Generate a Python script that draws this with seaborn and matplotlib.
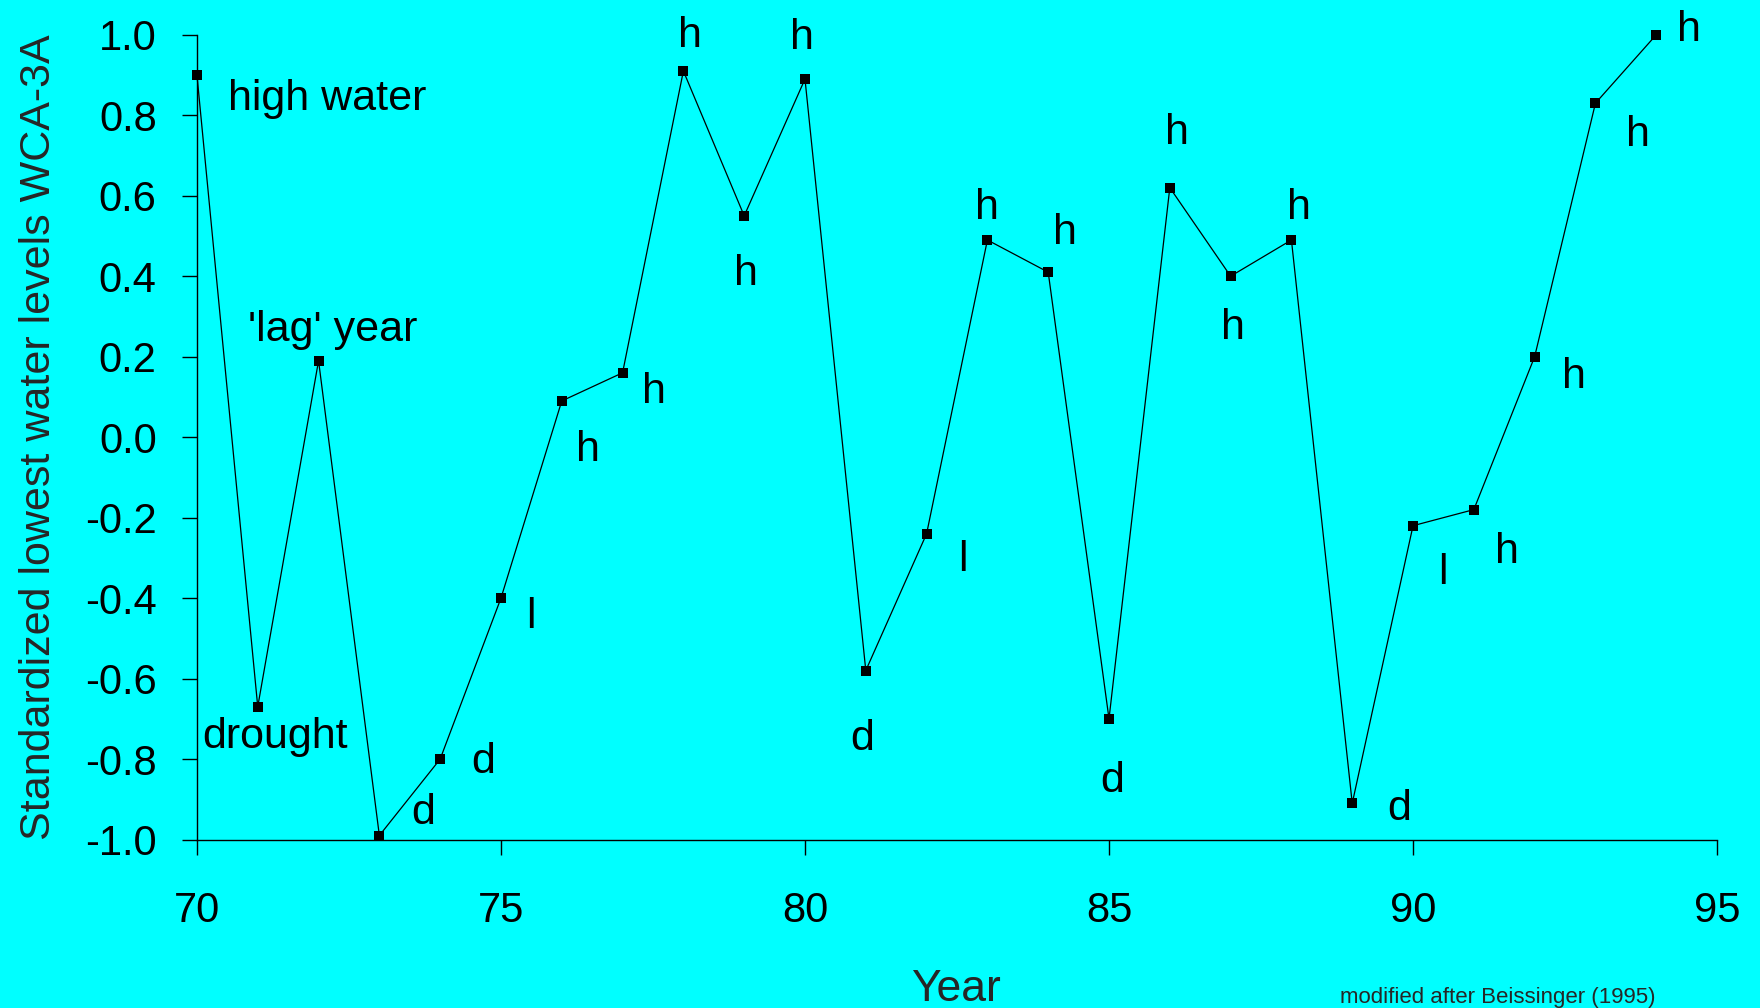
import matplotlib
matplotlib.use('Agg')
import matplotlib.pyplot as plt
import seaborn as sns
from matplotlib.ticker import FormatStrFormatter, MultipleLocator

years = list(range(70, 95))
levels = [0.90, -0.67, 0.19, -0.99, -0.80, -0.40, 0.09, 0.16, 0.91, 0.55,
          0.89, -0.58, -0.24, 0.49, 0.41, -0.70, 0.62, 0.40, 0.49, -0.91,
          -0.22, -0.18, 0.20, 0.83, 1.00]
labels = ['high water', 'drought', "'lag' year", 'd', 'd', 'l', 'h', 'h', 'h', 'h',
          'h', 'd', 'l', 'h', 'h', 'd', 'h', 'h', 'h', 'd',
          'l', 'h', 'h', 'h', 'h']

# label placement relative to each point (pixels, dy downward)
offsets = [(31, 20), (-55, 26), (-71, -35), (44, -27), (43, -1), (30, 15), (26, 45), (31, 15),
           (7, -39), (2, 54), (-3, -45), (-4, 64), (36, 22), (0, -36), (17, -43), (3, 58),
           (7, -59), (2, 48), (8, -36), (47, 2), (30, 43), (33, 38), (39, 16), (42, 28), (33, -9)]
aligns = ['left', 'left', 'left'] + ['center'] * 22

sns.set_style('ticks')
plt.rcParams['font.family'] = ['Liberation Sans', 'DejaVu Sans']
plt.rcParams['axes.unicode_minus'] = False

bg = '#00FFFF'
fig = plt.figure(figsize=(17.6, 10.08), dpi=100, facecolor=bg)
ax = fig.add_axes([0.1119, 0.1671, 0.8637, 0.7984])
ax.set_facecolor(bg)

sns.lineplot(x=years, y=levels, ax=ax, color='black', linewidth=0.9,
             marker='s', markersize=7, markeredgewidth=0, markerfacecolor='black')
for ln in ax.lines:
    ln.set_clip_on(False)

for yr, val, lab, (dx, dy), ha in zip(years, levels, labels, offsets, aligns):
    ax.annotate(lab, (yr, val), xytext=(dx, -(dy + 4)), textcoords='offset pixels',
                ha=ha, va='center', fontsize=31, color='black')

ax.set_xlim(70, 95)
ax.set_ylim(-1, 1)
ax.xaxis.set_major_locator(MultipleLocator(5))
ax.yaxis.set_major_locator(MultipleLocator(0.2))
ax.yaxis.set_major_formatter(FormatStrFormatter('%.1f'))

for s in ['top', 'right']:
    ax.spines[s].set_visible(False)
for s in ['left', 'bottom']:
    ax.spines[s].set_linewidth(1)
    ax.spines[s].set_color('black')

ax.tick_params(axis='both', direction='out', length=11, width=1, colors='black', labelsize=30)
ax.tick_params(axis='y', pad=18)
ax.tick_params(axis='x', pad=26)

ax.set_xlabel('Year', fontsize=32)
ax.set_ylabel('Standardized lowest water levels WCA-3A', fontsize=31)
ax.xaxis.set_label_coords(0.499, -0.161)
ax.yaxis.set_label_coords(-0.091, 0.5)

fig.text(0.7615, 0.005, 'modified after Beissinger (1995)', fontsize=16, ha='left', va='baseline')

fig.savefig('out.png', dpi=100, facecolor=bg)
